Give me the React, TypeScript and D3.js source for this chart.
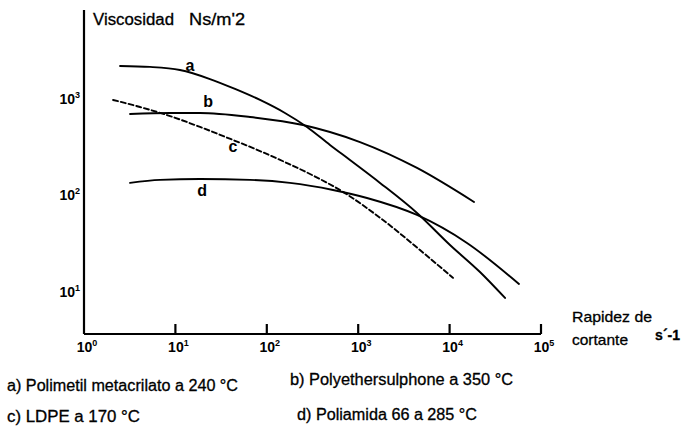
import React from 'react';
import * as d3 from 'd3';

// shear rate (s^-1) and viscosity (Ns/m^2)
const curveA = [
  [2.48, 2200], [5.27, 2150], [11.2, 1995], [23.9, 1610], [44.9, 1271], [84.3, 977],
  [158, 716], [275, 513], [491, 334], [813, 233], [1733, 135], [4400, 65.9],
  [10100, 30.7], [21500, 16.1], [40400, 8.67],
];
const curveB = [
  [3.19, 699], [8.73, 716], [18.6, 716], [65.5, 651], [249, 538], [1047, 358],
  [4400, 193], [18500, 85.7],
];
const curveC = [
  [2.08, 977], [4.1, 826], [8.09, 682], [18.6, 513], [42.7, 376], [84.3, 289],
  [166, 217], [297, 167], [682, 109], [1867, 55.7], [4745, 27.2], [10900, 14.0],
];
const curveD = [
  [3.19, 135], [6.79, 145], [18.6, 148], [65.5, 145], [179, 135], [530, 114],
  [1248, 94.2], [4400, 62.8], [15500, 32.2], [57400, 12.1],
];

const xTicks = [1, 10, 100, 1000, 10000, 100000];
const xTickExp = ['0', '1', '2', '3', '4', '5'];
const yTicks = [10, 100, 1000];
const yTickExp = ['1', '2', '3'];

const curveNames = ['a', 'b', 'c', 'd'];
const legendItems = [
  'a) Polimetil metacrilato a 240 °C',
  'b) Polyethersulphone a 350 °C',
  'c) LDPE a 170 °C',
  'd) Poliamida 66 a 285 °C',
];

const font = '"Liberation Sans", Arial, sans-serif';

const App = () => {
  const width = 683;
  const height = 428;

  const x = d3.scaleLog().domain([1, 100000]).range([84, 541]);
  const y = d3.scaleLog().domain([3.67, 8360]).range([334, 10]);

  const line = d3.line<number[]>()
    .x(d => x(d[0]))
    .y(d => y(d[1]))
    .curve(d3.curveMonotoneX);

  const curves = [curveA, curveB, curveC, curveD];
  const dashes = [null, null, '5 3', null];
  // label anchor points, taken from the curves themselves
  const labelAt = [
    { x: x(curveA[2][0]) + 10, y: y(curveA[2][1]) + 1 },
    { x: x(curveB[2][0]) + 8, y: y(curveB[2][1]) - 6 },
    { x: x(curveC[4][0]) + 0, y: y(curveC[4][1]) + 12 },
    { x: x(curveD[2][0]) + 2, y: y(curveD[2][1]) + 17 },
  ];
  const legendPos = [
    { x: 7, y: 391, w: 231 },
    { x: 290, y: 385, w: 223 },
    { x: 7, y: 422, w: 133 },
    { x: 297, y: 420, w: 180 },
  ];

  return (
    <svg width={width} height={height} style={{ position: 'absolute', left: 0, top: 0, background: '#fff' }}
      fontFamily={font}>
      <rect width={width} height={height} fill="#fff" />

      {/* axes */}
      <line x1={x(1)} x2={x(1)} y1={y.range()[1]} y2={y.range()[0]} stroke="#000" strokeWidth={2.2} />
      <line x1={x(1)} x2={x(100000)} y1={y.range()[0]} y2={y.range()[0]} stroke="#000" strokeWidth={2.2} />
      {xTicks.slice(1).map(t => (
        <line key={t} x1={x(t)} x2={x(t)} y1={y.range()[0]} y2={y.range()[0] - 10} stroke="#000" strokeWidth={2.2} />
      ))}

      {xTicks.map((t, i) => (
        <text key={t} x={x(t) + 3} y={352} textAnchor="middle" fontSize={14} fontWeight="bold">
          10<tspan fontSize={9} dy={-6}>{xTickExp[i]}</tspan>
        </text>
      ))}
      {yTicks.map((t, i) => (
        <text key={t} x={80} y={y(t) + 5} textAnchor="end" fontSize={14} fontWeight="bold">
          10<tspan fontSize={9} dy={-6}>{yTickExp[i]}</tspan>
        </text>
      ))}

      {/* curves */}
      {curves.map((c, i) => (
        <path key={i} d={line(c) || ''} fill="none" stroke="#000" strokeWidth={1.9}
          strokeDasharray={dashes[i] || undefined} strokeLinecap="round" />
      ))}
      {curveNames.map((n, i) => (
        <text key={n} x={labelAt[i].x} y={labelAt[i].y} textAnchor="middle" fontSize={16} fontWeight="bold">{n}</text>
      ))}

      {/* titles */}
      <g stroke="#000" strokeWidth={0.3}>
        <text x={93} y={25} fontSize={16} textLength={81} lengthAdjust="spacingAndGlyphs">Viscosidad</text>
        <text x={189} y={25} fontSize={16} textLength={56} lengthAdjust="spacingAndGlyphs">Ns/m'2</text>
        <text x={572} y={322} fontSize={15} textLength={80} lengthAdjust="spacingAndGlyphs">Rapidez de</text>
        <text x={572} y={345} fontSize={15} textLength={56} lengthAdjust="spacingAndGlyphs">cortante</text>
        <text x={680} y={340} textAnchor="end" fontSize={14} fontWeight="bold">s´-1</text>

        {/* legend */}
        {legendItems.map((s, i) => (
          <text key={s} x={legendPos[i].x} y={legendPos[i].y} fontSize={16}
            textLength={legendPos[i].w} lengthAdjust="spacingAndGlyphs">{s}</text>
        ))}
      </g>
    </svg>
  );
};

export default App;
